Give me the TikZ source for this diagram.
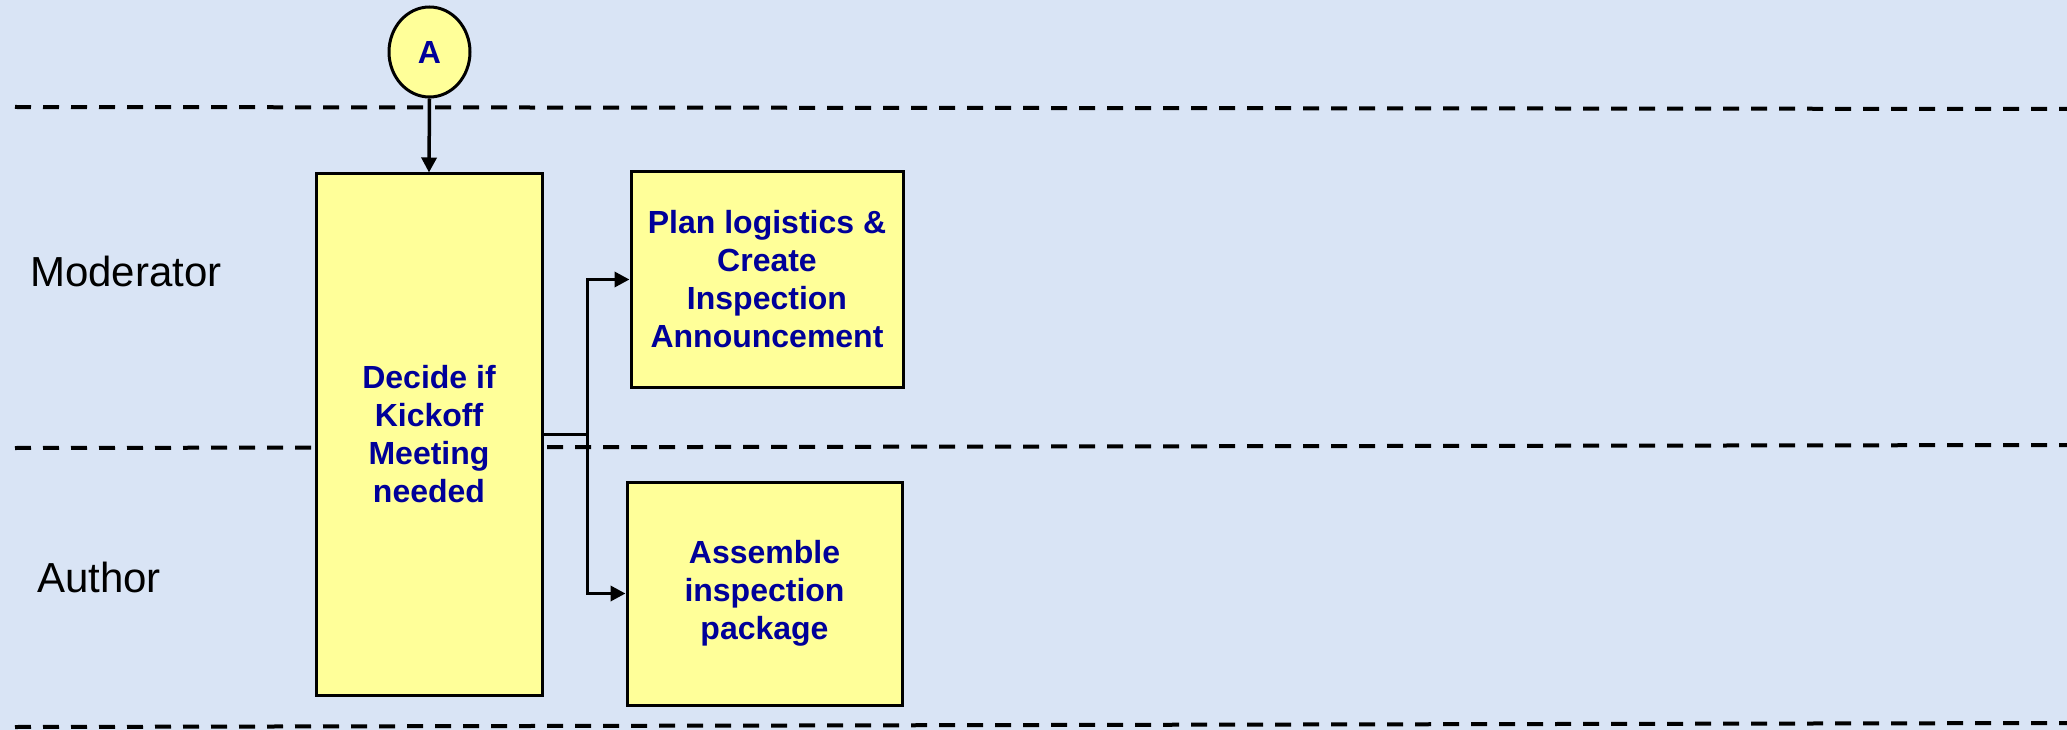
\documentclass[tikz,border=0pt]{standalone}
\usepackage{fontspec}
\setmainfont{Liberation Sans}
\usetikzlibrary{arrows.meta,calc,shapes.geometric}
\definecolor{bg}{HTML}{D9E4F5}
\definecolor{boxfill}{HTML}{FFFF99}
\definecolor{txtblue}{HTML}{000099}
\begin{document}
\begin{tikzpicture}[x=1pt,y=-1pt,
  lane/.style={line width=4pt, dash pattern=on 16pt off 12pt},
  procbox/.style={draw=black, line width=3pt, fill=boxfill, text=txtblue,
    font=\bfseries\fontsize{32}{38}\selectfont, align=center, inner sep=0pt},
  conn/.style={line width=3.5pt, -{Triangle[length=15pt,width=15pt]}},
  lanelabel/.style={font=\fontsize{42}{50}\selectfont, text=black, inner sep=0pt}]
\fill[bg] (0,0) rectangle (2067,730);
\useasboundingbox (0,0) rectangle (2067,730);
% swimlane separators
\draw[lane] (15,107) -- (2067,109);
\draw[lane] (15,448) -- (2067,445);
\draw[lane] (15,727) -- (2067,723);
% lane labels
\node[lanelabel] (modlbl) at (126,271) {Moderator};
\node[lanelabel] (authlbl) at (99,577) {Author};
% nodes
\node[procbox, ellipse, minimum width=81pt, minimum height=90pt] (a) at (429.5,52) {A};
\node[procbox, minimum width=226pt, minimum height=521pt] (decide) at (429,434.5) {Decide if\\Kickoff\\Meeting\\needed};
\node[procbox, minimum width=272pt, minimum height=215pt] (plan) at (767,279.5) {Plan logistics \&\\Create\\Inspection\\Announcement};
\node[procbox, minimum width=275pt, minimum height=223pt] (assemble) at (764.5,593.5) {Assemble\\inspection\\package};
% connectors
\coordinate (j) at ($(decide.east)+(44,0)$);
\draw[conn] (a.south) -- (decide.north);
\draw[conn] (decide.east) -- (j) |- (plan.west);
\draw[conn] (decide.east) -- (j) |- (assemble.west);
\end{tikzpicture}
\end{document}
